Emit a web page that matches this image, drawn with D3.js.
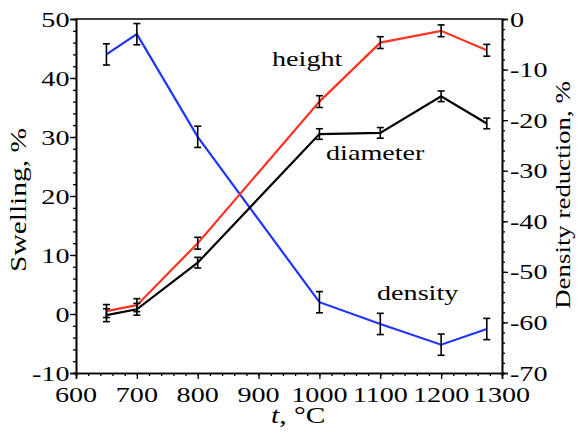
<!DOCTYPE html>
<html>
<head>
<meta charset="utf-8">
<script src="https://cdn.jsdelivr.net/npm/d3@7"></script>
<style>
  body { margin: 0; background: #fff; }
</style>
</head>
<body>
<svg id="chart" width="581" height="434"></svg>
<script>
// Data
const temps = [650, 700, 800, 1000, 1100, 1200, 1275];
const height = [0.5, 1.5, 12, 36, 46, 48, 44.7];
const heightErr = [1.1, 1.1, 1.0, 1.0, 1.0, 1.0, 1.0];
const diameter = [-0.2, 0.8, 8.7, 30.5, 30.7, 36.9, 32.3];
const diameterErr = [1.1, 1.0, 0.9, 0.9, 0.9, 0.9, 0.9];
const density = [-7, -3, -23.3, -56, -60.3, -64.4, -61.3];
const densityErr = [2.1, 2.1, 2.1, 2.1, 2.1, 2.1, 2.1];

const xTicks = [600, 700, 800, 900, 1000, 1100, 1200, 1300];
const yLeftTicks = [-10, 0, 10, 20, 30, 40, 50];
const yRightTicks = [-70, -60, -50, -40, -30, -20, -10, 0];

const FONT = 'Liberation Serif',
      FSIZE = 22,
      STRETCH = 1.28; // the original lettering is wider than it is tall

const margin = { top: 19, right: 79, bottom: 61, left: 76 },
      WIDTH = 581, HEIGHT = 434,
      w = WIDTH - margin.left - margin.right,
      h = HEIGHT - margin.top - margin.bottom;

const svg = d3.select('#chart');
const g = svg.append('g').attr('transform', `translate(${margin.left},${margin.top})`);

const x = d3.scaleLinear().domain([600, 1300]).range([0, w]);
const yL = d3.scaleLinear().domain([-10, 50]).range([h, 0]);
const yR = d3.scaleLinear().domain([-70, 0]).range([h, 0]);

// stretched text helper: (tx, ty) is the anchor point, rot in degrees
function label(parent, tx, ty, txt, anchor, rot) {
  return parent.append('text')
    .attr('transform', `translate(${tx},${ty}) rotate(${rot || 0}) scale(${STRETCH},1)`)
    .attr('font-family', FONT)
    .attr('font-size', FSIZE)
    .attr('fill', '#000')
    .attr('text-anchor', anchor || 'start')
    .text(txt);
}

/*
 * Axes: lines and ticks from d3.axis, labels drawn stretched
 */
function styleAxis(sel) {
  sel.select('.domain').attr('stroke', '#000').attr('stroke-width', 1.6);
  sel.selectAll('.tick line').attr('stroke', '#000').attr('stroke-width', 1.3);
}

// bottom
g.append('g').attr('transform', `translate(0,${h})`)
  .call(d3.axisBottom(x).tickValues(d3.range(600, 1301, 20)).tickSize(3).tickFormat(''))
  .call(styleAxis);
g.append('g').attr('transform', `translate(0,${h})`)
  .call(d3.axisBottom(x).tickValues(xTicks).tickSize(6).tickFormat(''))
  .call(styleAxis);
xTicks.forEach(t => label(g, x(t), h + 28.5, String(t), 'middle'));

// left
g.append('g')
  .call(d3.axisLeft(yL).tickValues(d3.range(-10, 50.1, 2)).tickSize(3).tickFormat(''))
  .call(styleAxis);
g.append('g')
  .call(d3.axisLeft(yL).tickValues(yLeftTicks).tickSize(6).tickFormat(''))
  .call(styleAxis);
yLeftTicks.forEach(t => label(g, -6.5, yL(t) + 7.5, String(t), 'end'));

// right
g.append('g').attr('transform', `translate(${w},0)`)
  .call(d3.axisRight(yR).tickValues(d3.range(-70, 0.1, 2)).tickSize(3).tickFormat(''))
  .call(styleAxis);
g.append('g').attr('transform', `translate(${w},0)`)
  .call(d3.axisRight(yR).tickValues(yRightTicks).tickSize(6).tickFormat(''))
  .call(styleAxis);
yRightTicks.forEach(t => label(g, w + 8, yR(t) + 7.5, String(t), 'start'));

// top frame line
g.append('line')
  .attr('x1', 0).attr('x2', w).attr('y1', 0).attr('y2', 0)
  .attr('stroke', '#000').attr('stroke-width', 1.6);

/*
 * Series
 */
const series = [
  { vals: density, err: densityErr, y: yR, color: '#1f34ff' },
  { vals: height, err: heightErr, y: yL, color: '#ff3322' },
  { vals: diameter, err: diameterErr, y: yL, color: '#000' }
];

series.forEach(s => {
  const pts = temps.map((t, i) => ({ t, v: s.vals[i], e: s.err[i] }));

  g.append('path')
    .datum(pts)
    .attr('fill', 'none')
    .attr('stroke', s.color)
    .attr('stroke-width', 2.2)
    .attr('d', d3.line().x(d => x(d.t)).y(d => s.y(d.v)));

  const bars = g.append('g').selectAll('g').data(pts).enter().append('g')
    .attr('stroke', '#000').attr('stroke-width', 1.6);
  bars.append('line')
    .attr('x1', d => x(d.t)).attr('x2', d => x(d.t))
    .attr('y1', d => s.y(d.v - d.e)).attr('y2', d => s.y(d.v + d.e));
  [-1, 1].forEach(k => {
    bars.append('line')
      .attr('x1', d => x(d.t) - 3.5).attr('x2', d => x(d.t) + 3.5)
      .attr('y1', d => s.y(d.v + k * d.e)).attr('y2', d => s.y(d.v + k * d.e));
  });
});

/*
 * Series labels
 */
label(svg, 272, 66, 'height');
label(svg, 326, 160, 'diameter');
label(svg, 377, 300, 'density');

/*
 * Axis titles
 */
const xt = svg.append('text')
  .attr('transform', `translate(271,423) scale(${STRETCH},1)`)
  .attr('font-family', FONT).attr('font-size', FSIZE + 1);
xt.append('tspan').attr('font-style', 'italic').text('t');
xt.append('tspan').text(', °C');

label(svg, 26, 200, 'Swelling, %', 'middle', -90).attr('font-size', FSIZE + 1);
label(svg, 570, 195, 'Density reduction, %', 'middle', -90).attr('font-size', FSIZE - 1);
</script>
</body>
</html>
